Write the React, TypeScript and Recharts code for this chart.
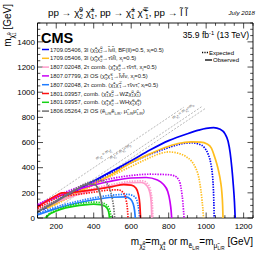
import React from 'react';
import { ComposedChart, Line, XAxis, YAxis, ReferenceArea, ReferenceLine, ReferenceDot } from 'recharts';

type P = [number, number];

// ---- data (x = m_chi2/chargino or slepton mass, y = m_chi1^0) ----
const blue3lObs: P[] = [[130,70],[200,135],[300,215],[400,295],[500,375],[600,455],[700,540],[800,615],[900,670],[960,698],[1000,712],[1040,718],[1075,705],[1100,670],[1117,610],[1128,520],[1137,400],[1145,260],[1151,130],[1155,0]];
const blue3lExp: P[] = [[130,65],[200,128],[300,208],[400,288],[500,365],[600,440],[700,505],[800,560],[870,590],[920,598],[960,588],[990,560],[1010,510],[1024,440],[1033,350],[1038,250],[1041,130],[1043,0]];
const tau3lObs: P[] = [[150,80],[200,118],[300,195],[400,272],[500,350],[600,440],[700,510],[780,560],[850,592],[920,605],[970,603],[1005,588],[1028,555],[1042,500],[1055,440],[1067,370],[1077,290],[1084,200],[1088,100],[1090,0]];
const tau3lExp: P[] = [[150,75],[200,110],[300,185],[400,262],[500,338],[600,410],[700,480],[760,515],[800,525],[850,515],[890,490],[920,455],[943,400],[958,340],[968,260],[976,170],[982,80],[986,0]];
const tauStauObs: P[] = [[100,60],[200,125],[300,180],[400,222],[500,255],[600,280],[655,282],[685,255],[700,200],[707,120],[710,0]];
const tauStauExp: P[] = [[100,68],[200,135],[300,192],[400,235],[500,268],[600,292],[660,295],[692,265],[706,200],[713,110],[716,0]];
const osObs: P[] = [[100,100],[200,165],[300,220],[400,262],[500,295],[600,318],[680,322],[740,302],[770,270],[795,210],[807,130],[813,60],[816,0]];
const osExp: P[] = [[100,108],[200,175],[300,235],[400,280],[500,315],[600,338],[700,348],[790,345],[830,335],[855,300],[868,220],[876,120],[882,0]];
const tauSnuObs: P[] = [[100,25],[200,75],[300,115],[400,145],[500,165],[570,168],[595,152],[610,115],[618,60],[622,0]];
const tauSnuExp: P[] = [[100,32],[200,88],[300,128],[400,160],[500,182],[580,188],[618,170],[633,125],[641,60],[645,0]];
const wzObs: P[] = [[100,85],[150,135],[200,178],[230,200],[260,198],[300,205],[400,225],[500,250],[560,266],[600,262],[625,238],[638,190],[646,110],[650,0]];
const wzExp: P[] = [[100,75],[150,118],[200,158],[230,180],[260,178],[300,185],[400,205],[480,222],[530,224],[558,200],[573,140],[580,70],[583,0]];
const whObs: P[] = [[145,0],[160,25],[200,55],[250,80],[300,95],[350,105],[400,110],[435,106],[462,92],[476,65],[482,30],[484,0]];
const whExp: P[] = [[140,0],[155,25],[200,62],[250,90],[300,108],[350,120],[400,126],[440,122],[468,105],[482,75],[490,35],[493,0]];
const slepObs: P[] = [[100,45],[150,90],[200,130],[250,175],[300,220],[340,255],[375,272],[400,268],[420,245],[433,195],[441,130],[446,60],[448,0]];
const slepExp: P[] = [[100,55],[150,100],[200,140],[250,185],[300,230],[350,270],[400,295],[435,300],[462,285],[483,240],[497,170],[506,90],[512,0]];

const xMajor = [200, 400, 600, 800, 1000, 1200];
const yMajor = [0, 200, 400, 600, 800, 1000, 1200, 1400];
const X_DOMAIN: [number, number] = [100, 1250];
const Y_DOMAIN: [number, number] = [0, 1550];

const legendLabels = [
  '1709.05406, 3l (χ̃^{±}_{1}χ̃^{0}_{2}→l̃νl̃l, BF(ll)=0.5, x_{l}=0.5)',
  '1709.05406, 3l (χ̃^{±}_{1}χ̃^{0}_{2}→τ̃νl̃l, x_{l}=0.5)',
  '1807.02048, 2τ comb. (χ̃^{±}_{1}χ̃^{0}_{2}→τ̃ντ̃τ, x_{l}=0.5)',
  '1807.07799, 2l OS (χ̃^{±}_{1}χ̃^{∓}_{1}→l̃νl̃ν, x_{l}=0.5)',
  '1807.02048, 2τ comb. (χ̃^{±}_{1}χ̃^{∓}_{1}→τ̃νντ̃, x_{l}=0.5)',
  '1801.03957, comb. (χ̃^{±}_{1}χ̃^{0}_{2}→WZχ̃^{0}_{1}χ̃^{0}_{1})',
  '1801.03957, comb. (χ̃^{±}_{1}χ̃^{0}_{2}→WHχ̃^{0}_{1}χ̃^{0}_{1})',
  '1806.05264, 2l OS (ẽ_{L/R}ẽ_{L/R}, μ̃_{L/R}μ̃_{L/R})',
];

const C = {
  blue: '#0000f5',
  yellow: '#ffbe1e',
  pink: '#ff9ccc',
  magenta: '#c800f5',
  ltblue: '#1f7cff',
  red: '#ff1010',
  green: '#14d214',
  gray: '#707070',
};

const series = [
  { d: blue3lObs, c: C.blue, exp: false },
  { d: blue3lExp, c: C.blue, exp: true },
  { d: tau3lObs, c: C.yellow, exp: false },
  { d: tau3lExp, c: C.yellow, exp: true },
  { d: tauStauObs, c: C.pink, exp: false },
  { d: tauStauExp, c: C.pink, exp: true },
  { d: osObs, c: C.magenta, exp: false },
  { d: osExp, c: C.magenta, exp: true },
  { d: tauSnuObs, c: C.ltblue, exp: false },
  { d: tauSnuExp, c: C.ltblue, exp: true },
  { d: wzObs, c: C.red, exp: false },
  { d: wzExp, c: C.red, exp: true },
  { d: whObs, c: C.green, exp: false },
  { d: whExp, c: C.green, exp: true },
  { d: slepObs, c: C.gray, exp: false },
  { d: slepExp, c: C.gray, exp: true },
];
const legendColors = [C.blue, C.yellow, C.pink, C.magenta, C.ltblue, C.red, C.green, C.gray];

// ---- layout ----
const W = 266, H = 255;
const PL = 37.5, PR = 253, PT = 23, PB = 218;
const FONT = '"Liberation Sans", Arial, Helvetica, sans-serif';

// ---- rich text (nested ^{} and _{}) ----
type Node = string | { k: 'sup' | 'sub'; c: Node[] };
function parse(s: string, i0: number): [Node[], number] {
  const out: Node[] = [];
  let buf = '';
  let i = i0;
  while (i < s.length) {
    const ch = s[i];
    if (ch === '}') { if (buf) out.push(buf); return [out, i + 1]; }
    if ((ch === '^' || ch === '_') && s[i + 1] === '{') {
      if (buf) { out.push(buf); buf = ''; }
      const [c, j] = parse(s, i + 2);
      out.push({ k: ch === '^' ? 'sup' : 'sub', c });
      i = j;
    } else { buf += ch; i++; }
  }
  if (buf) out.push(buf);
  return [out, i];
}
const strip = (t: string) => t.replace(/[\u0303\u0304]/g, '');
function nodeWidth(n: Node, fs: number): number {
  if (typeof n === 'string') return strip(n).length * fs * 0.56;
  return n.c.reduce((a, m) => a + nodeWidth(m, fs * 0.68), 0);
}
type Run = { t: string; fs: number; off: number; dx: number };
function walk(nodes: Node[], fs: number, off: number, runs: Run[]) {
  let pendingDx = 0;
  nodes.forEach((n, idx) => {
    if (typeof n === 'string') {
      runs.push({ t: n, fs, off, dx: pendingDx });
      pendingDx = 0;
      return;
    }
    const prev = nodes[idx - 1];
    if (prev && typeof prev !== 'string' && prev.k !== n.k) {
      const wPrev = nodeWidth(prev, fs);
      const wCur = nodeWidth(n, fs);
      const start = runs.length;
      walk(n.c, fs * 0.68, off + (n.k === 'sup' ? -0.4 * fs : 0.3 * fs), runs);
      if (runs[start]) runs[start].dx += -wPrev;
      if (wPrev > wCur) pendingDx = wPrev - wCur;
      return;
    }
    const start = runs.length;
    walk(n.c, fs * 0.68, off + (n.k === 'sup' ? -0.4 * fs : 0.3 * fs), runs);
    if (runs[start]) runs[start].dx += pendingDx;
    pendingDx = 0;
  });
}
function rich(s: string, fs: number) {
  const [nodes] = parse(s, 0);
  const runs: Run[] = [];
  walk(nodes, fs, 0, runs);
  let cur = 0;
  return runs.map((r, i) => {
    const dy = r.off - cur;
    cur = r.off;
    return (
      <tspan key={i} dy={dy ? dy.toFixed(2) : undefined} dx={r.dx ? r.dx.toFixed(2) : undefined} fontSize={r.fs.toFixed(2)}>{r.t}</tspan>
    );
  });
}

const xTicks: number[] = [];
for (let v = X_DOMAIN[0]; v <= X_DOMAIN[1]; v += 50) xTicks.push(v);
const yTicks: number[] = [];
for (let v = Y_DOMAIN[0]; v <= Y_DOMAIN[1]; v += 50) yTicks.push(v);

const XTick = (props: any) => {
  const { x, payload } = props;
  const v = payload.value;
  const major = xMajor.includes(v);
  const len = major ? 5.5 : 2.8;
  return (
    <g>
      <line x1={x} x2={x} y1={PB} y2={PB - len} stroke="#000" strokeWidth={0.7} />
      <line x1={x} x2={x} y1={PT} y2={PT + len} stroke="#000" strokeWidth={0.7} />
      {major && (
        <text x={x} y={PB + 11} textAnchor="middle" fontSize={8} fontFamily={FONT} fill="#000">{v}</text>
      )}
    </g>
  );
};

const YTick = (props: any) => {
  const { y, payload } = props;
  const v = payload.value;
  const major = yMajor.includes(v);
  const len = major ? 5.5 : 2.8;
  return (
    <g>
      <line x1={PL} x2={PL + len} y1={y} y2={y} stroke="#000" strokeWidth={0.7} />
      <line x1={PR} x2={PR - len} y1={y} y2={y} stroke="#000" strokeWidth={0.7} />
      {major && (
        <text x={PL - 2.5} y={y + 2.8} textAnchor="end" fontSize={8} fontFamily={FONT} fill="#000">{v}</text>
      )}
    </g>
  );
};

const ANG = -33.9;
const diagLabel = (txt: string) => (props: any) => {
  const vb = props.viewBox || {};
  const cx = (vb.x ?? 0) + (vb.width ?? 0) / 2;
  const cy = (vb.y ?? 0) + (vb.height ?? 0) / 2;
  return (
    <text x={cx} y={cy} transform={`rotate(${ANG} ${cx} ${cy})`} fontSize={4.3} fontFamily={FONT} fill="#555" textAnchor="middle">
      {rich(txt, 4.3)}
    </text>
  );
};

export default function App() {
  return (
    <div style={{ position: 'absolute', left: 0, top: 0, width: W, height: H, background: '#fff' }}>
      <ComposedChart width={W} height={H} margin={{ top: PT, right: W - PR, bottom: 0, left: 0 }}>
        <XAxis type="number" dataKey="x" domain={X_DOMAIN} ticks={xTicks} interval={0} allowDataOverflow
          axisLine={false} tickLine={false} tick={<XTick />} height={H - PB} />
        <YAxis type="number" dataKey="y" domain={Y_DOMAIN} ticks={yTicks} interval={0} allowDataOverflow
          axisLine={false} tickLine={false} tick={<YTick />} width={PL} />
        <ReferenceLine segment={[{ x: 100, y: 100 }, { x: 880, y: 880 }]} stroke="#8a8a8a" strokeWidth={0.6} strokeDasharray="2 1.5" />
        <ReferenceLine segment={[{ x: 191, y: 100 }, { x: 975, y: 884 }]} stroke="#8a8a8a" strokeWidth={0.6} strokeDasharray="2 1.5" />
        <ReferenceLine segment={[{ x: 225, y: 100 }, { x: 1000, y: 875 }]} stroke="#8a8a8a" strokeWidth={0.6} strokeDasharray="2 1.5" />
        <ReferenceDot x={455} y={500} r={0} stroke="none" fill="none" label={{ content: diagLabel('m_{χ̃^{±}_{1}} = m_{χ̃^{0}_{1}}') }} />
        <ReferenceDot x={545} y={520} r={0} stroke="none" fill="none" label={{ content: diagLabel('m_{χ̃^{0}_{2}} = m_{χ̃^{0}_{1}}+m_{Z}') }} />
        <ReferenceDot x={880} y={840} r={0} stroke="none" fill="none" label={{ content: diagLabel('m_{χ̃^{0}_{2}} = m_{χ̃^{0}_{1}}+m_{h}') }} />
        {series.map((s, i) => (
          <Line key={i} data={s.d.map(([x, y]) => ({ x, y }))} dataKey="y" type="monotone" stroke={s.c}
            strokeWidth={1.7} strokeDasharray={s.exp ? '1.4 1.2' : undefined}
            dot={false} activeDot={false} isAnimationActive={false} />
        ))}
        <ReferenceArea x1={X_DOMAIN[0]} x2={X_DOMAIN[1]} y1={Y_DOMAIN[0]} y2={Y_DOMAIN[1]} fill="none" stroke="#000" strokeWidth={0.9} fillOpacity={0} />
      </ComposedChart>
      <svg width={W} height={H} style={{ position: 'absolute', left: 0, top: 0, pointerEvents: 'none' }} fontFamily={FONT}>
        <text x={48} y={16} fontSize={9.8} fill="#000">
          {rich('pp → χ̃^{0}_{2} χ̃^{±}_{1}, pp → χ̃^{±}_{1} χ̃^{∓}_{1}, pp → l̃ l̃', 9.8)}
        </text>
        <text x={255} y={15} fontSize={6.2} fontStyle="italic" textAnchor="end" fill="#000">July 2018</text>
        <text x={41} y={42.5} fontSize={14.5} fontWeight="bold" fill="#000">CMS</text>
        <text x={249} y={38} fontSize={8.6} textAnchor="end" fill="#000">
          {rich('35.9 fb^{-1} (13 TeV)', 8.6)}
        </text>
        <text transform="translate(11,4) rotate(-90)" fontSize={10} textAnchor="end" fill="#000">
          {rich('m_{χ̃^{0}_{1}} [GeV]', 10)}
        </text>
        <text x={253} y={245} fontSize={10} textAnchor="end" fill="#000">
          {rich('m_{χ̃^{0}_{2}}=m_{χ̃^{±}_{1}} or m_{ẽ_{L/R}}=m_{μ̃_{L/R}} [GeV]', 10)}
        </text>
        {legendLabels.map((t, i) => {
          const y = 49.5 + i * 8.8;
          return (
            <g key={i}>
              <line x1={42} x2={49} y1={y} y2={y} stroke={legendColors[i]} strokeWidth={1.5} />
              <text x={50} y={y + 2} fontSize={5.8} fill="#222">{rich(t, 5.8)}</text>
            </g>
          );
        })}
        <line x1={202} x2={208} y1={52.5} y2={52.5} stroke="#000" strokeWidth={1.3} strokeDasharray="1.2 1.2" />
        <text x={209} y={54.5} fontSize={6} fill="#000">Expected</text>
        <line x1={205} x2={212} y1={60} y2={60} stroke="#000" strokeWidth={1.3} />
        <text x={213} y={62} fontSize={6} fill="#000">Observed</text>
      </svg>
    </div>
  );
}
